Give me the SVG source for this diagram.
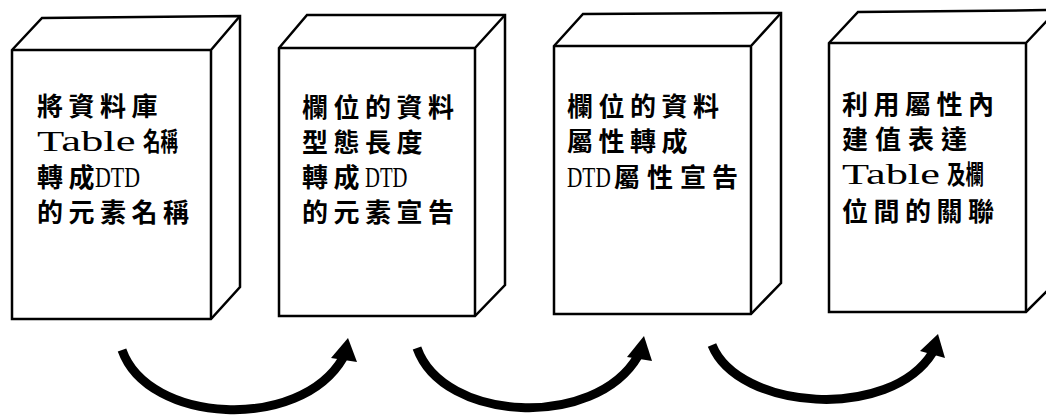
<svg xmlns="http://www.w3.org/2000/svg" width="1046" height="418" viewBox="0 0 1046 418">
<style>
.box{fill:#fff;stroke:#000;stroke-width:2.5;stroke-linejoin:miter}
.edge{fill:none;stroke:#000;stroke-width:2.5}
.t{font-family:"Liberation Serif","Noto Sans CJK TC",serif;font-size:26px;font-weight:bold;fill:#000}
.lat{font-family:"Liberation Serif",serif;font-size:29px;fill:#000}
.dtd{font-family:"Liberation Serif",serif;font-size:30px;fill:#000}
.arc{fill:none;stroke:#000;stroke-width:9;stroke-linecap:butt}
.head{fill:#000;stroke:none}
</style>
<rect width="1046" height="418" fill="#fff"/>

<g id="node1">
<path class="box" d="M12,50 L42,18 L240,16 L240,287 L211,319 L12,319 Z"/>
<path class="edge" d="M12,50 L211,50 L211,319 M211,50 L240,16"/>
<text class="t" y="116" x="37 68.5 100 131.5">將資料庫</text>
<text class="lat" transform="translate(37,151) scale(1.54,1)">Table</text>
<text class="t" y="151"><tspan x="143" textLength="35" lengthAdjust="spacingAndGlyphs">名稱</tspan></text>
<text class="t" y="187" x="37 68.5">轉成</text>
<text class="dtd" transform="translate(95,187) scale(0.73,1)">DTD</text>
<text class="t" y="222" x="37 68.5 100 131.5 163">的元素名稱</text>
</g>

<g id="node2">
<path class="box" d="M279,48 L307,15 L505,15 L505,285 L475,316 L279,316 Z"/>
<path class="edge" d="M279,48 L475,48 L475,316 M475,48 L505,15"/>
<text class="t" y="117" x="302 333.5 365 396.5 428">欄位的資料</text>
<text class="t" y="152" x="302 333.5 365 396.5">型態長度</text>
<text class="t" y="187" x="302 333.5">轉成</text>
<text class="dtd" transform="translate(365,187) scale(0.69,1)">DTD</text>
<text class="t" y="222" x="302 333.5 365 396.5 428">的元素宣告</text>
</g>

<g id="node3">
<path class="box" d="M554,46 L583,14 L781,13 L781,283 L751,314 L554,314 Z"/>
<path class="edge" d="M554,46 L751,46 L751,314 M751,46 L781,13"/>
<text class="t" y="116" x="567 598.5 630 661.5 693">欄位的資料</text>
<text class="t" y="151" x="567 598.5 630 661.5">屬性轉成</text>
<text class="dtd" transform="translate(567,187) scale(0.71,1)">DTD</text>
<text class="t" y="187" x="614 647 680 712">屬性宣告</text>
</g>

<g id="node4">
<path class="box" d="M829,43 L858,12 L1057,10 L1057,281 L1026,312 L829,312 Z"/>
<path class="edge" d="M829,43 L1026,43 L1026,312 M1026,43 L1057,10"/>
<text class="t" y="114" x="842 873.5 905 936.5 968">利用屬性內</text>
<text class="t" y="149" x="842 875 908 941">建值表達</text>
<text class="lat" transform="translate(842,184) scale(1.53,1)">Table</text>
<text class="t" y="184"><tspan x="947" textLength="37" lengthAdjust="spacingAndGlyphs">及欄</tspan></text>
<text class="t" y="221" x="842 873.5 905 936.5 968">位間的關聯</text>
</g>

<g id="connectors">
<path class="arc" d="M122,350 C148,424 300,432 343,358"/>
<polygon class="head" points="348,338 331,358 357,362"/>
<path class="arc" d="M417,348 C443,422 595,430 638,356"/>
<polygon class="head" points="644,336 627,357 652,361"/>
<path class="arc" d="M712,345 C738,410 890,422 933,352"/>
<polygon class="head" points="938,334 920,351 945,358"/>
</g>
</svg>
